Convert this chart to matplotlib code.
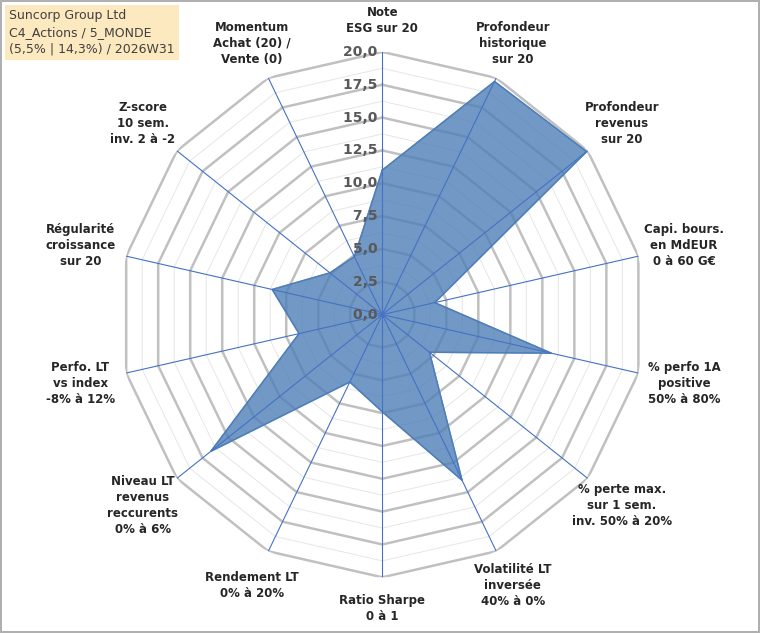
import numpy as np
import matplotlib.pyplot as plt

labels = ["Note\nESG sur 20", "Profondeur\nhistorique\nsur 20", "Profondeur\nrevenus\nsur 20",
          "Capi. bours.\nen MdEUR\n0 à 60 G€", "% perfo 1A\npositive\n50% à 80%",
          "% perte max.\nsur 1 sem.\ninv. 50% à 20%", "Volatilité LT\ninversée\n40% à 0%",
          "Ratio Sharpe\n0 à 1", "Rendement LT\n0% à 20%", "Niveau LT\nrevenus\nreccurents\n0% à 6%",
          "Perfo. LT\nvs index\n-8% à 12%", "Régularité\ncroissance\nsur 20",
          "Z-score\n10 sem.\ninv. 2 à -2", "Momentum\nAchat (20) /\nVente (0)"]
values = [11.0, 19.7, 19.9, 4.1, 13.2, 4.6, 14.0, 7.4, 5.7, 16.7, 6.5, 8.6, 5.1, 4.9]
ticks = [0, 2.5, 5, 7.5, 10, 12.5, 15, 17.5, 20]

n = len(labels)
ang = np.linspace(0, 2 * np.pi, n, endpoint=False)
angc = np.append(ang, ang[0])

fig = plt.figure(figsize=(7.6, 6.33), dpi=100)
fig.patch.set_edgecolor("#b0b0b0")
fig.patch.set_linewidth(1.5)
ax = fig.add_axes([0.088, 0.088, 0.83, 0.83], projection="polar")
ax.set_theta_zero_location("N")
ax.set_theta_direction(-1)
ax.set_ylim(0, 20)
ax.grid(False)
ax.spines["polar"].set_visible(False)
ax.set_xticks([])
ax.set_yticks([])

# rings
for r in np.arange(1.25, 20.01, 1.25):
    major = abs(r / 2.5 - round(r / 2.5)) < 1e-6
    ax.plot(angc, [r] * (n + 1), color="#c0c0c0" if major else "#e6e6e6",
            lw=1.8 if major else 0.7, zorder=1)
for a in ang:
    ax.plot([a, a], [0, 20], color="#4472c4", lw=0.8, zorder=3)

ax.fill(angc, values + values[:1], color="#4f7fb8", alpha=0.8, zorder=2)
ax.plot(angc, values + values[:1], color="#4f7fb8", lw=1, zorder=2)

for t in ticks:
    ax.text(0, t, f"{t:.1f}".replace(".", ",") + " ", ha="right", va="center",
            fontsize=10, fontweight="bold", color="#595959", zorder=4)

for a, lab in zip(ang, labels):
    s = np.sin(a)
    ax.text(a, 22.4 + 1.2 * abs(s), lab, ha="center", va="center", fontsize=8.5,
            fontweight="bold", color="#262626", linespacing=1.3)

fig.text(0.012, 0.985, "Suncorp Group Ltd\nC4_Actions / 5_MONDE\n(5,5% | 14,3%) / 2026W31",
         ha="left", va="top", fontsize=9, color="#404040", linespacing=1.35,
         bbox=dict(boxstyle="square,pad=0.35", fc="#fde9bf", ec="none"))

fig.savefig("out.png", dpi=100, edgecolor=fig.get_edgecolor())
